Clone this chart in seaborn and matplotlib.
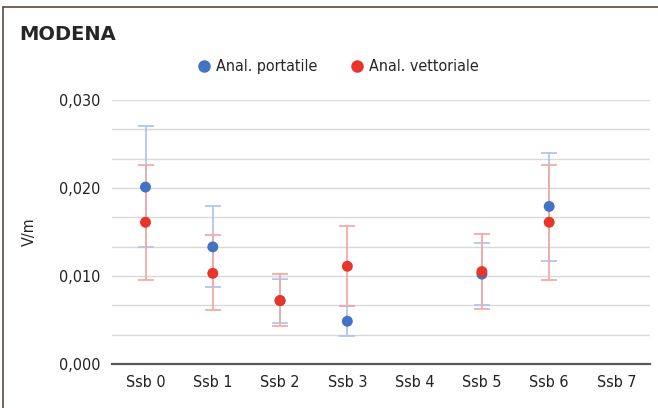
import numpy as np
import pandas as pd
from matplotlib import pyplot as plt
from matplotlib.lines import Line2D
import seaborn as sns

sns.set_style("white")
plt.rcParams['font.family'] = ['DejaVu Sans']
plt.rcParams['font.stretch'] = 'condensed'

categories = ['Ssb 0', 'Ssb 1', 'Ssb 2', 'Ssb 3', 'Ssb 4', 'Ssb 5', 'Ssb 6', 'Ssb 7']
portatile = [0.0201, 0.0133, 0.0072, 0.00485, np.nan, 0.0102, 0.0179, np.nan]
portatile_lo = [0.0133, 0.0088, 0.0047, 0.0032, np.nan, 0.0067, 0.0117, np.nan]
portatile_hi = [0.0270, 0.0180, 0.0096, 0.0066, np.nan, 0.0138, 0.0240, np.nan]
vettoriale = [0.0161, 0.0103, 0.0072, 0.0111, np.nan, 0.0105, 0.0161, np.nan]
vettoriale_lo = [0.0095, 0.0061, 0.0043, 0.0066, np.nan, 0.0062, 0.0095, np.nan]
vettoriale_hi = [0.0226, 0.0146, 0.0102, 0.0157, np.nan, 0.0148, 0.0226, np.nan]

blue, blue_light = '#4472C4', '#AFC6EC'
red, red_light = '#E8352B', '#F4AAA8'

x = np.arange(len(categories))
df = pd.DataFrame({
    'x': np.concatenate([x, x]),
    'val': portatile + vettoriale,
    'serie': ['Anal. portatile'] * 8 + ['Anal. vettoriale'] * 8,
})

fig = plt.figure(figsize=(6.58, 4.08), dpi=100)
ax = fig.add_axes([0.170, 0.108, 0.818, 0.647])

for v, lo, hi, c in [(portatile, portatile_lo, portatile_hi, blue_light),
                     (vettoriale, vettoriale_lo, vettoriale_hi, red_light)]:
    v, lo, hi = np.array(v), np.array(lo), np.array(hi)
    ax.errorbar(x, v, yerr=[v - lo, hi - v], fmt='none', ecolor=c,
                elinewidth=1.3, capsize=5.5, capthick=1.3, zorder=2)

sns.scatterplot(data=df.dropna(), x='x', y='val', hue='serie',
                palette=[blue, red], s=62, edgecolor='none', ax=ax,
                zorder=3, legend=False)

ax.set_xlim(-0.5, 7.5)
ax.set_ylim(0, 0.030)
ax.set_xticks(x)
ax.set_xticklabels(categories, fontsize=11.5)
ax.set_yticks([0, 0.01, 0.02, 0.03])
ax.set_yticklabels(['0,000', '0,010', '0,020', '0,030'], fontsize=11.5)
for g in np.arange(1, 10) * 0.01 / 3:
    ax.axhline(g, color='#D9D9D9', lw=1, zorder=1)
ax.tick_params(axis='both', length=0, pad=8, colors='#222222')
for s in ['top', 'right', 'left']:
    ax.spines[s].set_visible(False)
ax.spines['bottom'].set_color('#595959')
ax.spines['bottom'].set_linewidth(1.6)
ax.set_xlabel('')
ax.set_ylabel('V/m', fontsize=11.5, labelpad=16)

handles = [Line2D([], [], marker='o', ls='none', color=blue, markersize=8),
           Line2D([], [], marker='o', ls='none', color=red, markersize=8)]
fig.legend(handles, ['Anal. portatile', 'Anal. vettoriale'], ncol=2,
           loc='center', bbox_to_anchor=(0.511, 0.836), frameon=False,
           fontsize=11.5, handletextpad=0.15, columnspacing=1.9,
           handlelength=1.2)

fig.text(0.03, 0.915, 'MODENA', fontsize=14, fontweight='bold',
         fontstretch='normal', va='center')

fig.add_artist(Line2D([0.005, 0.005], [0, 0.983], color='#5A4A42', lw=1.2))
fig.add_artist(Line2D([0.005, 1], [0.983, 0.983], color='#5A4A42', lw=1.2))

fig.savefig('out.png', dpi=100)
